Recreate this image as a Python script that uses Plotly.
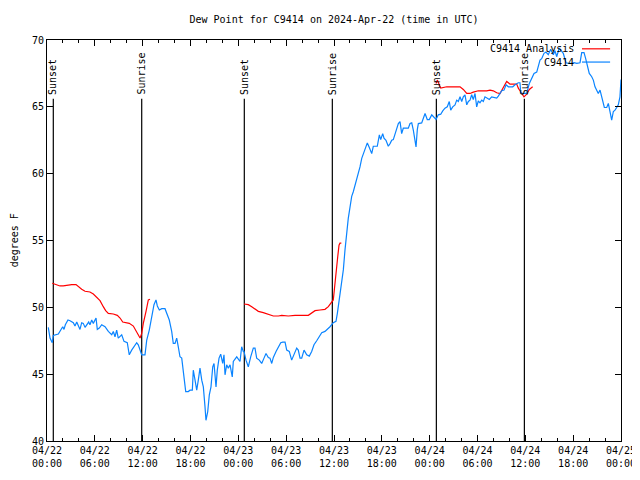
import pandas as pd
import plotly.graph_objects as go

START = pd.Timestamp("2024-04-22 00:00")

# Observed dew point (hours since start, degrees F)
obs_hours = [0.16,0.38,0.66,0.79,1.42,1.72,1.97,2.13,2.30,2.63,2.89,3.30,3.51,3.73,3.98,4.14,4.35,4.55,4.77,4.98,
 5.23,5.39,5.61,5.81,6.15,6.31,6.56,6.86,7.28,7.69,8.12,8.32,8.53,8.74,8.94,9.37,9.66,10.07,10.32,10.62,
 11.04,11.25,11.45,11.67,11.88,12.29,12.51,12.83,13.13,13.42,13.67,13.84,14.09,14.39,14.80,15.02,15.34,15.64,15.84,16.06,
 16.27,16.47,16.68,16.90,17.10,17.40,17.72,17.94,18.23,18.35,18.57,18.78,18.98,19.19,19.41,19.61,19.82,19.94,20.16,20.36,
 20.57,20.79,20.95,21.20,21.36,21.58,21.79,22.04,22.20,22.33,22.54,22.74,22.96,23.24,23.37,23.80,24.21,24.42,24.62,24.71,
 24.96,25.25,25.55,25.88,26.09,26.30,26.63,26.93,27.22,27.47,27.76,27.97,28.19,28.39,28.73,29.02,29.32,29.57,29.86,30.07,
 30.39,30.69,30.98,31.32,31.52,31.74,31.95,32.24,32.58,32.90,33.20,33.49,33.83,34.16,34.46,34.87,35.16,35.50,35.91,36.25,
 36.42,36.59,36.75,36.97,37.17,37.38,37.59,37.79,38.01,38.22,38.42,38.64,38.85,39.05,39.26,39.48,39.89,40.18,40.43,40.73,
 40.93,41.43,41.69,41.86,42.11,42.27,42.52,42.81,43.03,43.24,43.44,43.78,44.07,44.28,44.49,44.69,45.32,45.54,45.75,45.95,
 46.16,46.29,46.45,46.58,47.00,47.20,47.42,47.70,47.95,48.26,48.54,48.80,49.08,49.39,49.64,49.92,50.21,50.46,50.64,50.89,
 51.18,51.39,51.59,51.81,52.02,52.22,52.43,52.65,52.85,53.06,53.27,53.47,53.69,53.90,54.10,54.31,54.53,54.73,54.94,55.16,
 55.48,55.78,56.20,56.41,56.61,56.82,57.04,57.33,57.58,57.87,58.42,58.71,59.12,59.33,59.42,59.75,60.17,60.50,60.80,61.09,
 61.43,61.63,61.84,62.05,62.34,62.59,62.88,63.18,63.51,63.72,63.93,64.26,64.56,64.76,65.10,65.39,65.82,66.11,66.45,66.86,
 67.07,67.36,67.57,67.78,68.02,68.33,68.53,68.74,68.95,69.15,69.37,69.58,69.78,69.91,70.21,70.41,70.62,70.83,71.04,71.25,
 71.46,71.66,71.87,72.0]
obs_values = [48.5,47.7,47.35,47.9,48.0,48.35,48.55,48.35,48.7,49.05,49.0,48.85,48.6,48.9,48.6,48.35,48.85,48.8,48.5,48.7,
 48.9,48.7,49.05,48.8,49.2,48.35,48.45,48.7,48.55,48.2,47.95,48.2,47.8,48.3,47.7,47.95,47.45,47.35,46.45,46.8,
 47.2,47.35,47.2,46.8,46.45,46.45,47.55,48.3,49.3,50.2,50.55,50.1,49.8,49.9,49.9,49.55,49.05,48.2,47.3,47.3,
 47.7,47.05,46.3,46.2,45.3,43.7,43.7,43.8,43.8,45.3,44.55,43.8,44.55,45.45,44.55,44.05,42.55,41.55,42.2,43.45,
 44.05,45.55,45.8,44.05,45.3,46.2,46.5,45.8,46.45,44.95,45.7,45.45,45.7,44.8,45.95,46.3,45.95,47.05,46.7,46.7,
 46.05,45.55,46.3,46.95,46.95,46.2,46.05,45.8,46.2,46.55,46.25,46.2,45.8,46.25,46.7,47.05,47.35,47.4,47.4,46.8,
 46.7,46.05,46.45,46.95,46.8,46.2,46.2,46.8,46.45,46.35,46.7,47.2,47.5,47.8,48.1,48.2,48.35,48.55,48.85,48.95,
 49.55,50.3,51.05,52.05,52.8,54.3,55.8,56.65,57.5,58.3,58.65,59.15,59.5,60.0,60.5,61.15,61.75,62.3,61.95,61.5,
 62.05,62.05,62.9,62.55,63.0,62.65,62.5,62.05,62.25,62.5,62.55,63.25,63.75,63.9,63.0,63.4,63.4,63.75,63.8,63.25,
 62.4,62.0,63.3,63.75,63.8,64.15,64.5,64.05,64.05,64.4,64.2,64.05,64.4,64.45,64.7,64.9,65.0,65.4,64.75,65.0,
 65.15,65.5,65.4,65.75,65.4,65.75,65.9,65.15,65.4,65.5,65.9,65.55,66.0,65.0,65.45,65.3,65.5,65.4,65.75,65.65,
 65.55,65.75,65.65,65.65,65.8,66.05,66.2,66.25,66.65,66.5,66.5,66.65,66.8,66.8,66.05,66.0,66.0,66.75,67.15,67.5,
 67.6,68.0,68.5,68.6,69.0,69.1,68.9,69.3,68.9,69.2,68.75,69.4,69.1,69.0,68.3,68.25,68.25,68.3,68.25,68.3,
 69.05,69.05,68.6,68.1,67.5,67.25,67.0,66.5,66.25,66.0,66.25,65.75,65.4,64.95,64.95,65.25,64.65,64.0,64.65,64.75,
 64.95,65.15,65.75,67.05]

# Analysis dew point, three separate segments
ana1_hours = [0.66,1.00,1.63,2.04,2.38,3.10,3.64,3.93,4.35,4.77,5.39,5.81,6.23,6.65,7.06,7.36,7.69,8.32,8.82,9.16,
 9.50,9.91,10.32,10.83,11.25,11.67,11.88,12.08,12.42,12.71,12.92]
ana1_values = [51.8,51.75,51.6,51.6,51.65,51.7,51.7,51.55,51.35,51.2,51.15,51.0,50.75,50.5,50.05,49.75,49.55,49.5,49.4,49.2,
 48.9,48.85,48.8,48.6,48.2,47.7,48.05,48.8,49.7,50.55,50.6]
ana2_hours = [24.71,25.25,25.68,26.09,26.51,27.13,27.76,28.39,29.02,29.44,30.27,31.11,32.78,33.20,33.62,34.25,34.87,35.29,
 35.71,35.91,36.04,36.25,36.34,36.47,36.63,36.75,36.92]
ana2_values = [50.25,50.2,50.05,49.85,49.7,49.6,49.5,49.35,49.35,49.4,49.35,49.4,49.4,49.6,49.75,49.8,49.85,50.05,
 50.35,50.55,51.3,52.3,53.05,53.8,54.65,54.8,54.8]
ana3_hours = [48.80,48.96,49.39,49.71,50.14,51.81,52.22,52.65,53.06,53.47,54.10,55.16,55.57,55.98,56.41,56.82,57.24,57.66,
 57.87,58.08,58.92,59.12,59.55,59.83,60.17,60.50,60.80,60.92]
ana3_values = [66.75,67.0,66.4,66.45,66.5,66.5,66.3,66.0,66.0,66.1,66.2,66.2,66.25,66.2,66.05,66.0,66.5,66.9,
 66.8,66.7,66.7,66.4,66.0,65.75,65.95,66.3,66.45,66.5]

# Sun events (hours since start)
event_hours = [0.79, 11.88, 24.75, 35.79, 48.84, 59.88]
event_labels = ["Sunset", "Sunrise", "Sunset", "Sunrise", "Sunset", "Sunrise"]
event_top = 65.6

series_names = ["C9414 Analysis", "C9414"]
RED = "#ff0000"
BLUE = "#0a84ff"
FONT = "DejaVu Sans Mono"
FS = 10


def to_time(hours):
    return [START + pd.Timedelta(hours=h) for h in hours]


fig = go.Figure()

for h in event_hours:
    t = to_time([h, h])
    fig.add_trace(go.Scatter(x=t, y=[40, event_top], mode="lines",
                             line=dict(color="black", width=1.2), showlegend=False, hoverinfo="skip"))

for hrs, vals in [(ana1_hours, ana1_values), (ana2_hours, ana2_values), (ana3_hours, ana3_values)]:
    fig.add_trace(go.Scatter(x=to_time(hrs), y=vals, mode="lines",
                             line=dict(color=RED, width=1.2, shape="linear"), showlegend=False))

fig.add_trace(go.Scatter(x=to_time(obs_hours), y=obs_values, mode="lines",
                         line=dict(color=BLUE, width=1.2), showlegend=False))

for h, lab in zip(event_hours, event_labels):
    fig.add_annotation(x=to_time([h])[0], y=event_top + 0.15, text=lab, textangle=-90,
                       showarrow=False, xanchor="center", yanchor="bottom",
                       font=dict(family=FONT, size=FS, color="black"))

# legend (gnuplot style: text then line sample)
leg_y = [0.978, 0.945]
for name, col, yy in zip(series_names, [RED, BLUE], leg_y):
    fig.add_annotation(xref="paper", yref="paper", x=0.921, y=yy, text=name, showarrow=False,
                       xanchor="right", yanchor="middle", font=dict(family=FONT, size=FS, color="black"))
    fig.add_shape(type="line", xref="paper", yref="paper", x0=0.932, x1=0.981, y0=yy, y1=yy,
                  line=dict(color=col, width=1.2))

fig.add_annotation(xref="paper", yref="paper", x=-0.056, y=0.5, text="degrees F", textangle=-90,
                   showarrow=False, xanchor="center", yanchor="middle",
                   font=dict(family=FONT, size=FS, color="black"))

fig.update_layout(
    width=640, height=480,
    margin=dict(l=39, r=27, t=32, b=47, autoexpand=False),
    paper_bgcolor="white", plot_bgcolor="white",
    title=dict(text="Dew Point for C9414 on 2024-Apr-22 (time in UTC)", x=0.5, xref="paper",
               y=1 - 11 / 480, yref="container", xanchor="center", yanchor="middle",
               font=dict(family=FONT, size=FS, color="black"), automargin=False),
    font=dict(family=FONT, size=FS, color="black"),
    showlegend=False,
)

fig.update_xaxes(type="date", range=[START, START + pd.Timedelta(hours=72)], automargin=False,
                 dtick=6 * 3600 * 1000, tick0=START, tickformat="%m/%d<br>%H:%M",
                 showgrid=False, zeroline=False, showline=True, linecolor="black", linewidth=1,
                 mirror="ticks", ticks="inside", ticklen=6, tickcolor="black",
                 minor=dict(dtick=2 * 3600 * 1000, ticks="inside", ticklen=3, tickcolor="black", showgrid=False),
                 tickfont=dict(family=FONT, size=FS))
fig.update_yaxes(range=[40, 70], dtick=5, showgrid=False, zeroline=False, showline=True, automargin=False,
                 linecolor="black", linewidth=1, mirror="ticks", ticks="inside", ticklen=6,
                 tickcolor="black", tickfont=dict(family=FONT, size=FS))

fig.write_html("out.html")
